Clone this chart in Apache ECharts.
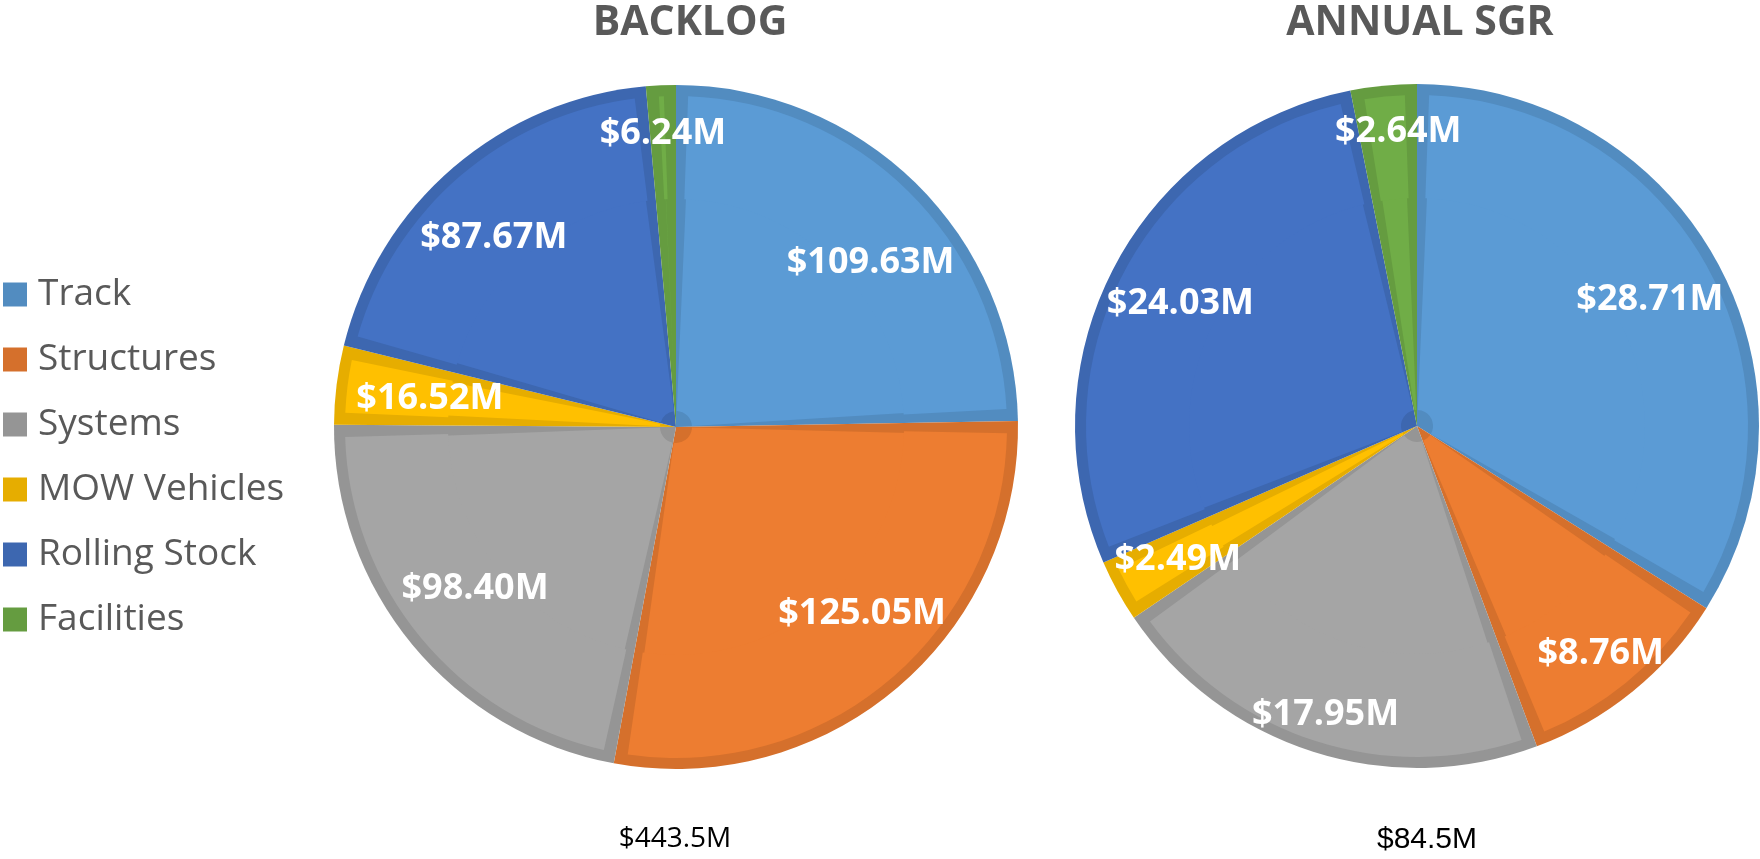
<!DOCTYPE html>
<html>
<head>
<meta charset="utf-8">
<script src="https://cdn.jsdelivr.net/npm/echarts@6/dist/echarts.min.js"></script>
<style>
  html, body { margin: 0; padding: 0; background: #fff; }
  #chart { width: 1760px; height: 859px; }
</style>
</head>
<body>
<div id="chart"></div>
<script>
//////////////////////////////
//          数据
//////////////////////////////
var categories = ['Track', 'Structures', 'Systems', 'MOW Vehicles', 'Rolling Stock', 'Facilities'];
var backlogValues = [109.63, 125.05, 98.40, 16.52, 87.67, 6.24];
var sgrValues = [28.71, 8.76, 17.95, 2.49, 24.03, 2.64];
var pieTitles = ['BACKLOG', 'ANNUAL SGR'];
var pieTotals = ['$443.5M', '$84.5M'];

//////////////////////////////
//          样式
//////////////////////////////
var fillColors = ['#5B9BD5', '#ED7D31', '#A5A5A5', '#FFC000', '#4472C4', '#70AD47'];
var edgeColors = ['#528CC0', '#D5702C', '#959595', '#E6AD00', '#3D67B0', '#659C40'];
var R = 342;

// 每个饼图的位置, 标签离圆心的距离和角度微调(度)
var pies = [{
    values: backlogValues,
    center: [676, 427],
    labelR: [256, 262, 257, 248, 264, 296],
    labelTurn: [5, -5, 1, 0, -3, 0]
}, {
    values: sgrValues,
    center: [1417, 426],
    labelR: [266, 291, 301, 273, 267, 297],
    labelTurn: [0, 0, 0, 0, 0, 2]
}];

function toData(values, colors) {
    return values.map(function(v, i) {
        return { name: categories[i], value: v, itemStyle: { color: colors[i] } };
    });
}

var series = [];

// 底层: 深色(边框色)整圆
pies.forEach(function(p) {
    series.push({
        type: 'pie',
        z: 1,
        center: p.center,
        radius: [0, R],
        startAngle: 90,
        silent: true,
        animation: false,
        label: { show: false },
        labelLine: { show: false },
        data: toData(p.values, edgeColors)
    });
});

// 上层: 浅色填充, 用padAngle留出边框 (两圈, 稍微重叠避免缝)
pies.forEach(function(p) {
    [[[16, 233], 5.0], [[228, R - 11], 4.2]].forEach(function(ring) {
        series.push({
            type: 'pie',
            z: 2,
            center: p.center,
            radius: ring[0],
            padAngle: ring[1],
            startAngle: 90,
            silent: true,
            animation: false,
            label: { show: false },
            labelLine: { show: false },
            data: toData(p.values, fillColors)
        });
    });
});

// 标签层: 透明
pies.forEach(function(p) {
    series.push({
        type: 'pie',
        z: 3,
        center: p.center,
        radius: [0, R],
        startAngle: 90,
        silent: true,
        animation: false,
        itemStyle: { color: 'rgba(0,0,0,0)' },
        labelLine: { show: false },
        label: {
            show: true,
            position: 'inside',
            color: '#ffffff',
            fontFamily: 'Open Sans',
            fontWeight: 'bold',
            fontSize: 36,
            formatter: function(params) {
                return '$' + params.value.toFixed(2) + 'M';
            }
        },
        labelLayout: function(params) {
            var r = params.labelRect;
            var lx = r.x + r.width / 2 - p.center[0];
            var ly = r.y + r.height / 2 - p.center[1];
            var a = Math.atan2(lx, -ly) + p.labelTurn[params.dataIndex] * Math.PI / 180;
            var t = p.labelR[params.dataIndex];
            return { dx: t * Math.sin(a) - lx, dy: -t * Math.cos(a) - ly + 2 };
        },
        data: p.values.map(function(v, i) {
            return { name: categories[i], value: v };
        })
    });
});

var myChart = echarts.init(document.getElementById('chart'));

var option = {
    animation: false,
    title: [{
        text: pieTitles[0],
        left: 690,
        top: 3,
        padding: 0,
        textAlign: 'center',
        textStyle: { fontFamily: 'Open Sans', fontWeight: 'bold', fontSize: 41, color: '#595959' }
    }, {
        text: pieTitles[1],
        left: 1420,
        top: 3,
        padding: 0,
        textAlign: 'center',
        textStyle: { fontFamily: 'Open Sans', fontWeight: 'bold', fontSize: 41, color: '#595959' }
    }, {
        text: pieTotals[0],
        left: 675,
        top: 825,
        padding: 0,
        textAlign: 'center',
        textStyle: { fontFamily: 'Open Sans', fontWeight: 'normal', fontSize: 28, color: '#000000' }
    }, {
        text: pieTotals[1],
        left: 1427,
        top: 825,
        padding: 0,
        textAlign: 'center',
        textStyle: { fontFamily: 'Liberation Sans', fontWeight: 'normal', fontSize: 30, color: '#000000' }
    }],
    legend: {
        orient: 'vertical',
        left: 3,
        top: 276,
        padding: 0,
        itemWidth: 24,
        itemHeight: 24,
        itemGap: 28,
        icon: 'rect',
        selectedMode: false,
        data: categories,
        textStyle: {
            fontFamily: 'Open Sans',
            fontSize: 37,
            lineHeight: 37,
            color: '#595959',
            padding: [0, 0, 0, 6]
        }
    },
    series: series
};

myChart.setOption(option);
</script>
</body>
</html>
